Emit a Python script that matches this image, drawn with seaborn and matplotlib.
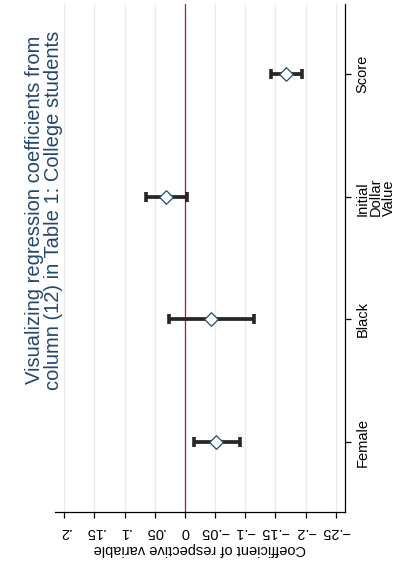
import matplotlib
matplotlib.use("Agg")
import matplotlib.pyplot as plt
import seaborn as sns
import pandas as pd

# Coefficients and 95% confidence bounds, column (12)
variables = ["Female", "Black", "Initial\nDollar\nValue", "Score"]
coef = [-0.052, -0.043, 0.032, -0.167]
ci_low = [-0.091, -0.114, -0.003, -0.194]
ci_high = [-0.015, 0.026, 0.065, -0.142]
tick_values = [-0.25, -0.2, -0.15, -0.1, -0.05, 0, 0.05, 0.1, 0.15, 0.2]
tick_labels = ["\u2212.25", "\u2212.2", "\u2212.15", "\u2212.1", "\u2212.05", "0", ".05", ".1", ".15", ".2"]

df = pd.DataFrame({"variable": variables, "coef": coef, "lo": ci_low, "hi": ci_high})
df["pos"] = range(1, len(df) + 1)

sns.set_theme(style="white")
plt.rcParams["font.family"] = ["Liberation Sans", "DejaVu Sans"]

W, H = 396, 565
fig = plt.figure(figsize=(W / 100, H / 100), dpi=100)
ax = fig.add_axes([55 / W, 1 - 512 / H, (345 - 55) / W, (512 - 4) / H])

# grid lines and zero reference
for v in tick_values:
    ax.axvline(v, color="#e4ecee", lw=0.9, zorder=0)
ax.axvline(0, color="#c0143c", lw=0.9, zorder=1)

# confidence intervals with caps
ax.errorbar(df["coef"], df["pos"], xerr=[df["coef"] - df["lo"], df["hi"] - df["coef"]],
            fmt="none", ecolor="#262626", elinewidth=2.7, capsize=3.3, capthick=2.6, zorder=2)

sns.scatterplot(data=df, x="coef", y="pos", marker="D", s=48, color="white",
                edgecolor="#1f4e79", linewidth=0.9, zorder=3, ax=ax, legend=False)

ax.set_xlim(0.2155, -0.2655)
ax.set_ylim(0.43, 4.57)
ax.set_xticks(tick_values)
ax.set_xticklabels(tick_labels)
ax.set_yticks(df["pos"])
ax.set_yticklabels(df["variable"])
ax.yaxis.tick_right()
ax.set_xlabel("")
ax.set_ylabel("")

for s in ["left", "top"]:
    ax.spines[s].set_visible(False)
for s in ["bottom", "right"]:
    ax.spines[s].set_color("#000000")
    ax.spines[s].set_linewidth(0.9)

ax.tick_params(axis="x", bottom=True, direction="out", length=4, width=0.9, color="black",
               labelsize=10.5, labelrotation=180, pad=5, labelcolor="black")
ax.tick_params(axis="y", right=True, left=False, direction="out", length=4, width=0.9, color="black",
               labelsize=10.5, labelrotation=90, pad=3.8, labelcolor="black")
for lab in ax.get_yticklabels():
    lab.set_multialignment("left")
    lab.set_verticalalignment("center")
    lab.set_linespacing(0.93)

fig.text(200 / W, 1 - 549 / H, "Coefficient of respective variable", rotation=180,
         ha="center", va="center", fontsize=10.5, color="black")

fig.text(44 / W, 1 - 210 / H,
         "Visualizing regression coefficients from\ncolumn (12) in Table 1: College students",
         rotation=90, ha="center", va="center", fontsize=14.5, color="#24466e",
         multialignment="center", linespacing=1.0)

fig.savefig("out.png", dpi=100, facecolor="white")
